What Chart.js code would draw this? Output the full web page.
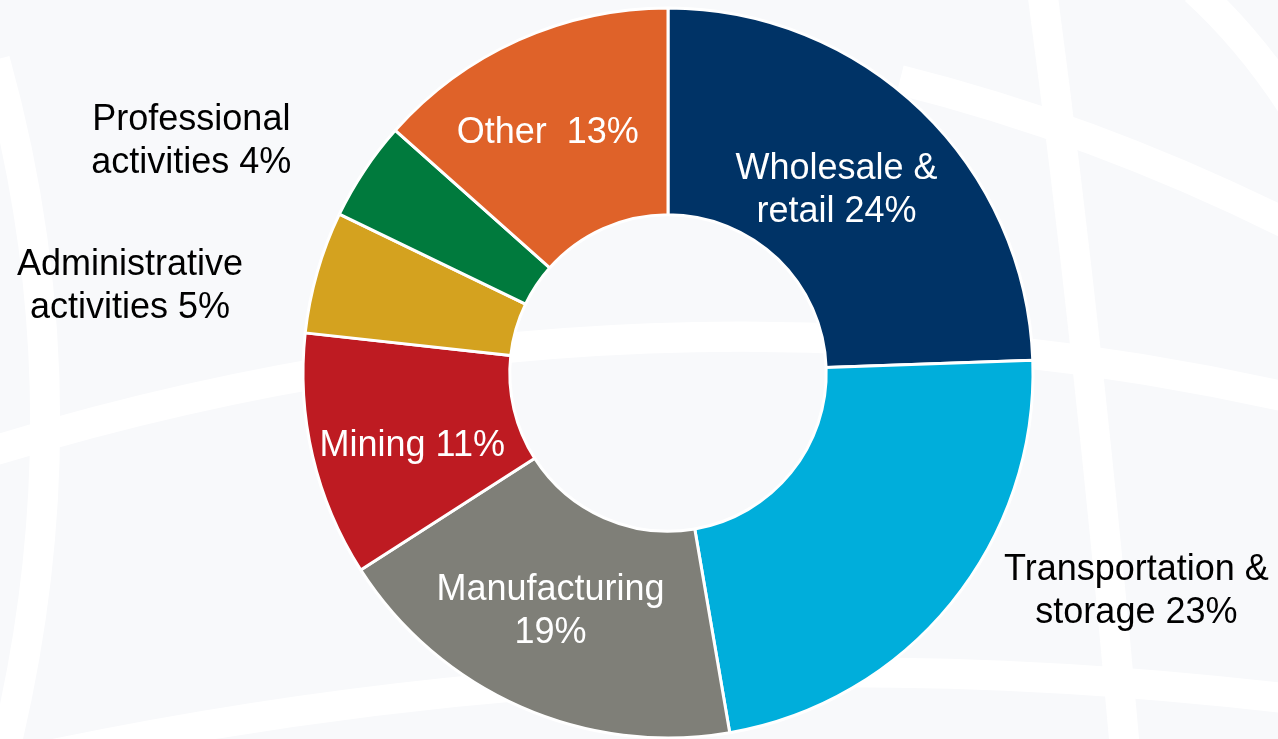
<!DOCTYPE html>
<html>
<head>
<meta charset="utf-8">
<script src="https://cdn.jsdelivr.net/npm/chart.js"></script>
<style>
    body { margin: 0; background: #f8f9fb; }
    #wrap { width: 1278px; height: 739px; }
</style>
</head>
<body>
<div id="wrap"><canvas id="sector-chart" width="1278" height="739"></canvas></div>
<script>
// share of businesses by sector
var sectors = ['Wholesale & retail', 'Transportation & storage', 'Manufacturing', 'Mining',
    'Administrative activities', 'Professional activities', 'Other'];
var shares = [24.4, 22.8, 18.6, 10.8, 5.4, 4.4, 13.4];
// label lines, %p gets the rounded share
var labelLines = [
    ['Wholesale &', 'retail %p%'],
    ['Transportation &', 'storage %p%'],
    ['Manufacturing', '%p%'],
    ['Mining %p%'],
    ['Administrative', 'activities %p%'],
    ['Professional', 'activities %p%'],
    ['Other  %p%']
];
var sectorColors = ['#003366', '#00aedb', '#7f7f78', '#be1b22', '#d4a21f', '#007a3d', '#df6229'];

// where each label sits: distance from centre and angle shift (deg) from slice middle
var labelPlacement = [
    { dist: 248, shift: -1.2, color: '#ffffff' },
    { dist: 517, shift: -14.1, color: '#000000' },
    { dist: 266, shift: 2.4, color: '#ffffff' },
    { dist: 266, shift: -2.8, color: '#ffffff' },
    { dist: 545, shift: -6.9, color: '#000000' },
    { dist: 530, shift: -7.8, color: '#000000' },
    { dist: 268, shift: -2.5, color: '#ffffff' }
];

// faint globe lines in the background
var globeBackground = {
    id: 'globeBackground',
    beforeDraw: function (chart) {
        var ctx = chart.ctx;
        ctx.save();
        ctx.fillStyle = '#f8f9fb';
        ctx.fillRect(0, 0, chart.width, chart.height);
        ctx.strokeStyle = '#ffffff';
        ctx.lineWidth = 30;
        var bands = [
            [-20, 455, 640, 250, 1300, 400],
            [-20, 770, 640, 620, 1300, 700],
            [-5, 60, 90, 400, 5, 750],
            [1042, -10, 1090, 350, 1125, 750],
            [900, 80, 1100, 130, 1295, 228],
            [1195, -10, 1250, 40, 1295, 110]
        ];
        bands.forEach(function (b) {
            ctx.beginPath();
            ctx.moveTo(b[0], b[1]);
            ctx.quadraticCurveTo(b[2], b[3], b[4], b[5]);
            ctx.stroke();
        });
        ctx.restore();
    }
};

var sliceLabels = {
    id: 'sliceLabels',
    afterDatasetsDraw: function (chart) {
        var ctx = chart.ctx;
        var meta = chart.getDatasetMeta(0);
        ctx.save();
        ctx.font = '36px "Liberation Sans", Arial, sans-serif';
        ctx.textAlign = 'center';
        ctx.textBaseline = 'middle';
        meta.data.forEach(function (arc, i) {
            var p = arc.getProps(['x', 'y', 'startAngle', 'endAngle'], true);
            var place = labelPlacement[i];
            var mid = (p.startAngle + p.endAngle) / 2 + place.shift * Math.PI / 180;
            var cx = p.x + Math.cos(mid) * place.dist;
            var cy = p.y + Math.sin(mid) * place.dist;
            var pct = Math.round(shares[i]);
            var lines = labelLines[i].map(function (l) { return l.replace('%p', pct); });
            var lineHeight = 43;
            ctx.fillStyle = place.color;
            lines.forEach(function (line, j) {
                ctx.fillText(line, cx, cy + (j - (lines.length - 1) / 2) * lineHeight);
            });
        });
        ctx.restore();
    }
};

var ctx = document.getElementById('sector-chart').getContext('2d');
var sectorChart = new Chart(ctx, {
    type: 'doughnut',
    data: {
        labels: sectors,
        datasets: [{
            data: shares,
            backgroundColor: sectorColors,
            borderColor: '#ffffff',
            borderWidth: 3,
            clip: false
        }]
    },
    options: {
        responsive: false,
        animation: false,
        radius: 365,
        cutout: 158,
        layout: {
            padding: { left: 58, right: 0, top: 7, bottom: 0 }
        },
        plugins: {
            legend: { display: false },
            tooltip: { enabled: false }
        }
    },
    plugins: [globeBackground, sliceLabels]
});
</script>
</body>
</html>
